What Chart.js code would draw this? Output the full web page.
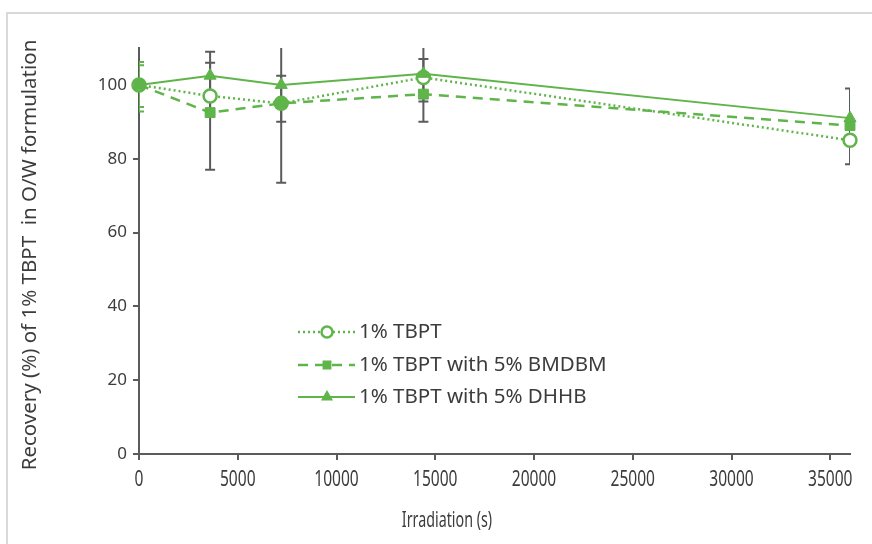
<!DOCTYPE html>
<html><head><meta charset="utf-8">
<script src="https://cdn.jsdelivr.net/npm/chart.js@4/dist/chart.umd.min.js"></script>
<style>
html,body{margin:0;padding:0;background:#fff;}
#wrap{position:relative;width:872px;height:544px;overflow:hidden;background:#fff;}
#frame{position:absolute;left:6px;top:12px;width:900px;height:600px;border:2px solid #d9d9d9;box-sizing:border-box;}
canvas{position:absolute;left:0;top:0;}
</style></head><body>
<div id="wrap"><div id="frame"></div><canvas id="c" width="872" height="544"></canvas></div>
<script>
// ---- data ----
const xSeconds = [0, 3600, 7200, 14400, 36000];
const tbpt  = [100, 97, 95, 102, 85];
const bmdbm = [100, 92.5, 95, 97.5, 89];
const dhhb  = [100, 102.5, 100, 103, 91];
const tbptErrLow   = [null, 77, 73.5, 90, 78.5];
const tbptErrHigh  = [null, 109, 116.5, 114, 99];
const bmdbmErrLow  = [94, 92.5, 90, 95.5, null];
const bmdbmErrHigh = [106.2, 106, 102.5, 107, null];
const dhhbErrLow   = [92.8, null, null, null, null];
const dhhbErrHigh  = [105.3, null, null, null, null];
const xTicks = [0, 5000, 10000, 15000, 20000, 25000, 30000, 35000];
const yTicks = [0, 20, 40, 60, 80, 100];
const seriesNames = ['1% TBPT', '1% TBPT with 5% BMDBM', '1% TBPT with 5% DHHB'];
const xTitle = 'Irradiation (s)';
const yTitle = 'Recovery (%) of 1% TBPT  in O/W formulation';

// ---- styles ----
const GREEN = '#5fb44a';
const GRAY = '#5a5b5d';
const TEXT = '#3c3c3c';
const FONT = '"Noto Sans", "Open Sans", sans-serif';

const pts = arr => xSeconds.map((x, i) => ({x, y: arr[i]}));

const errPlugin = {
  id: 'errbars',
  beforeDatasetsDraw(chart) {
    const {ctx, chartArea: a, scales: {x, y}} = chart;
    ctx.save();
    ctx.beginPath();
    ctx.rect(a.left, a.top, a.right - a.left, a.bottom - a.top);
    ctx.clip();
    const sets = [[tbptErrLow, tbptErrHigh], [bmdbmErrLow, bmdbmErrHigh], [dhhbErrLow, dhhbErrHigh]];
    sets.forEach(([lo, hi]) => {
      xSeconds.forEach((xv, i) => {
        if (lo[i] == null || hi[i] == null) return;
        const px = x.getPixelForValue(xv);
        const pl = y.getPixelForValue(lo[i]);
        const ph = y.getPixelForValue(hi[i]);
        ctx.strokeStyle = i === 0 ? GREEN : GRAY;
        ctx.lineWidth = 2;
        ctx.beginPath();
        ctx.moveTo(px, pl); ctx.lineTo(px, ph);
        ctx.moveTo(px - 5, pl); ctx.lineTo(px + 5, pl);
        ctx.moveTo(px - 5, ph); ctx.lineTo(px + 5, ph);
        ctx.stroke();
      });
    });
    ctx.restore();
  }
};

const legendPlugin = {
  id: 'customLegend',
  afterDraw(chart) {
    const ctx = chart.ctx;
    const rows = [332, 365, 397];
    const x0 = 298, x1 = 355, xm = 327, xt = 359;
    chart.data.datasets.forEach((ds, i) => {
      const yy = rows[i];
      ctx.save();
      ctx.strokeStyle = ds.borderColor;
      ctx.lineWidth = ds.borderWidth;
      ctx.setLineDash(ds.borderDash || []);
      ctx.beginPath(); ctx.moveTo(x0, yy); ctx.lineTo(x1, yy); ctx.stroke();
      ctx.setLineDash([]);
      ctx.fillStyle = ds.pointBackgroundColor;
      ctx.strokeStyle = ds.pointBorderColor;
      Chart.helpers.drawPoint(ctx, {pointStyle: ds.pointStyle, radius: ds.legendRadius, rotation: 0, borderWidth: ds.pointBorderWidth}, xm, yy);
      ctx.fillStyle = TEXT;
      ctx.font = '20.5px ' + FONT;
      ctx.textBaseline = 'middle';
      ctx.textAlign = 'left';
      ctx.fillText(ds.label, xt, yy);
      ctx.restore();
    });
  }
};

const textPlugin = {
  id: 'axisTexts',
  afterDraw(chart) {
    const ctx = chart.ctx;
    const xs = chart.scales.x;
    ctx.save();
    ctx.fillStyle = TEXT;
    ctx.textAlign = 'center';
    ctx.textBaseline = 'middle';
    // x tick labels (condensed)
    ctx.font = '21px ' + FONT;
    xTicks.forEach(v => {
      ctx.save();
      ctx.translate(xs.getPixelForValue(v), 480);
      ctx.scale(0.74, 1);
      ctx.fillText(String(v), 0, 0);
      ctx.restore();
    });
    // x title (condensed)
    ctx.save();
    ctx.translate(447, 521);
    ctx.scale(0.68, 1);
    ctx.fillText(xTitle, 0, 0);
    ctx.restore();
    // y title
    ctx.font = '20.5px ' + FONT;
    ctx.translate(30, 255);
    ctx.rotate(-Math.PI / 2);
    ctx.fillText(yTitle, 0, 0);
    ctx.restore();
  }
};

new Chart(document.getElementById('c'), {
  type: 'line',
  data: {
    datasets: [
      {label: seriesNames[0], data: pts(tbpt), borderColor: GREEN, borderWidth: 2.5, borderDash: [2, 3],
       pointStyle: 'circle', pointRadius: 6.5, legendRadius: 5.5, pointBackgroundColor: '#fff', pointBorderColor: GREEN, pointBorderWidth: 2.5, order: 3, clip: false},
      {label: seriesNames[1], data: pts(bmdbm), borderColor: GREEN, borderWidth: 2.5, borderDash: [10, 7],
       pointStyle: 'rect', pointRadius: 7, legendRadius: 4.5, pointBackgroundColor: GREEN, pointBorderColor: GREEN, pointBorderWidth: 1, order: 2, clip: false},
      {label: seriesNames[2], data: pts(dhhb), borderColor: GREEN, borderWidth: 2,
       pointStyle: 'triangle', pointRadius: 7, legendRadius: 5, pointBackgroundColor: GREEN, pointBorderColor: GREEN, pointBorderWidth: 1, order: 1, clip: false}
    ]
  },
  options: {
    responsive: false,
    animation: false,
    layout: {padding: {left: 0, top: 48, right: 22, bottom: 0}},
    plugins: {legend: {display: false}, tooltip: {enabled: false}},
    elements: {line: {tension: 0}},
    scales: {
      x: {
        type: 'linear', min: 0, max: 36000,
        afterBuildTicks: s => { s.ticks = xTicks.map(v => ({value: v})); },
        afterFit: s => { s.height = 90; },
        grid: {display: true, drawOnChartArea: false, drawTicks: true, tickLength: 6, color: GRAY, lineWidth: 2},
        border: {display: true, color: GRAY, width: 2},
        ticks: {display: false}
      },
      y: {
        type: 'linear', min: 0, max: 110, z: 1,
        afterBuildTicks: s => { s.ticks = yTicks.map(v => ({value: v})); },
        afterFit: s => { s.width = 139; },
        grid: {display: true, drawOnChartArea: false, drawTicks: true, tickLength: 6, color: GRAY, lineWidth: 2},
        border: {display: true, color: GRAY, width: 2},
        ticks: {color: TEXT, font: {family: FONT, size: 17}, padding: 6}
      }
    }
  },
  plugins: [errPlugin, legendPlugin, textPlugin]
});
</script>
</body></html>
